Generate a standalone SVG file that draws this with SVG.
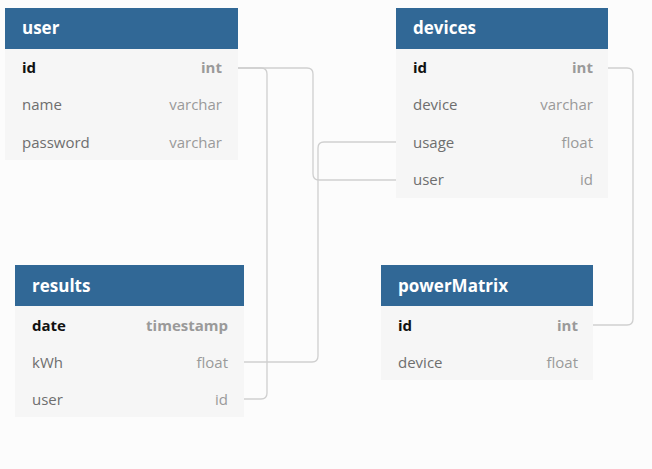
<svg xmlns="http://www.w3.org/2000/svg" width="652" height="469" viewBox="0 0 652 469">
<style>
.bg{fill:#fcfcfc}
.hd{fill:#316896}
.bd{fill:#f6f6f6}
.ht{font-family:"Open Sans",sans-serif;font-size:17px;font-weight:bold;fill:#ffffff}
.fn{font-family:"Open Sans",sans-serif;font-size:15px;fill:#6e6e6e}
.fk{font-family:"Open Sans",sans-serif;font-size:15px;font-weight:bold;fill:#111111}
.tn{font-family:"Open Sans",sans-serif;font-size:15px;fill:#9a9a9a;text-anchor:end}
.tk{font-family:"Open Sans",sans-serif;font-size:15px;font-weight:bold;fill:#9a9a9a;text-anchor:end}
.ln{fill:none;stroke:#cfcfcf;stroke-width:1.3}
</style>
<rect class="bg" x="0" y="0" width="652" height="469"/>
<g id="connectors">
<path class="ln" d="M238,68 H261 Q267,68 267,74 V393 Q267,399 261,399 H244"/>
<path class="ln" d="M238,68 H307 Q313,68 313,74 V174 Q313,180 319,180 H396"/>
<path class="ln" d="M244,362 H312 Q318,362 318,356 V148 Q318,142 324,142 H396"/>
<path class="ln" d="M608,68 H627 Q633,68 633,74 V319 Q633,325 627,325 H593"/>
</g>
<g id="user">
<rect class="bd" x="5" y="48" width="233" height="112"/>
<rect class="hd" x="5" y="8" width="233" height="41"/>
<text class="ht" x="22" y="34">user</text>
<text class="fk" x="22" y="73">id</text><text class="tk" x="222" y="73">int</text>
<text class="fn" x="22" y="110">name</text><text class="tn" x="222" y="110">varchar</text>
<text class="fn" x="22" y="148">password</text><text class="tn" x="222" y="148">varchar</text>
</g>
<g id="devices">
<rect class="bd" x="396" y="48" width="212" height="150"/>
<rect class="hd" x="396" y="8" width="212" height="41"/>
<text class="ht" x="413" y="34">devices</text>
<text class="fk" x="413" y="73">id</text><text class="tk" x="593" y="73">int</text>
<text class="fn" x="413" y="110">device</text><text class="tn" x="593" y="110">varchar</text>
<text class="fn" x="413" y="148">usage</text><text class="tn" x="593" y="148">float</text>
<text class="fn" x="413" y="185">user</text><text class="tn" x="593" y="185">id</text>
</g>
<g id="results">
<rect class="bd" x="15" y="305" width="229" height="112"/>
<rect class="hd" x="15" y="265" width="229" height="41"/>
<text class="ht" x="32" y="292">results</text>
<text class="fk" x="32" y="331">date</text><text class="tk" x="228" y="331">timestamp</text>
<text class="fn" x="32" y="368">kWh</text><text class="tn" x="228" y="368">float</text>
<text class="fn" x="32" y="405">user</text><text class="tn" x="228" y="405">id</text>
</g>
<g id="powerMatrix">
<rect class="bd" x="381" y="305" width="212" height="75"/>
<rect class="hd" x="381" y="265" width="212" height="41"/>
<text class="ht" x="398" y="292">powerMatrix</text>
<text class="fk" x="398" y="331">id</text><text class="tk" x="578" y="331">int</text>
<text class="fn" x="398" y="368">device</text><text class="tn" x="578" y="368">float</text>
</g>
</svg>
